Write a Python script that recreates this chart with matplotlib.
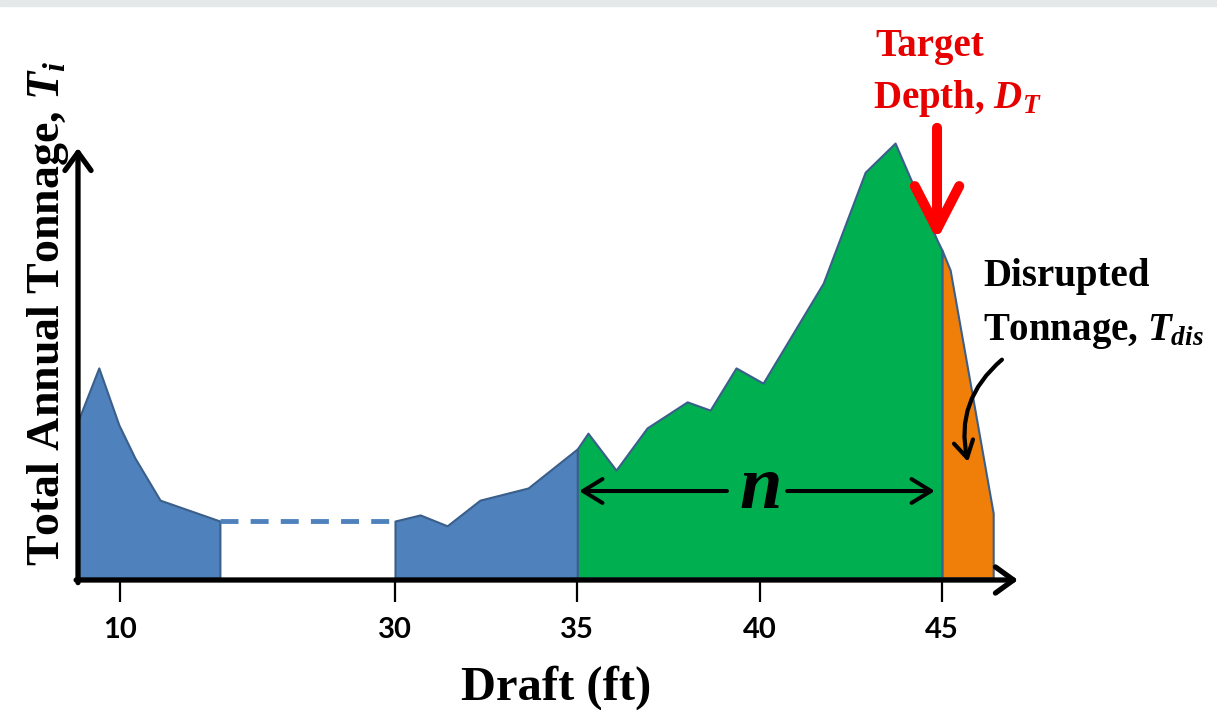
import numpy as np
import matplotlib.pyplot as plt
from matplotlib.patches import Rectangle

plt.rcParams['mathtext.fontset'] = 'custom'
plt.rcParams['mathtext.rm'] = 'Liberation Serif'
plt.rcParams['mathtext.it'] = 'Liberation Serif:italic:bold'

# tonnage profile (draft in ft, tonnage in arbitrary units)
low_draft = [8.85, 9.42, 9.97, 10.41, 11.10, 12.74]
low_tons = [36.1, 48.3, 35.2, 27.6, 17.9, 13.1]

mid_draft = [30.0, 30.69, 31.43, 32.33, 33.65, 35.0]
mid_tons = [13.1, 14.5, 12.0, 17.9, 20.7, 29.7]

n_draft = [35.0, 35.29, 36.06, 36.91, 38.01, 38.64, 39.35, 40.09, 41.74, 42.89, 43.71, 44.86, 45.0]
n_tons = [29.7, 33.3, 24.8, 34.5, 40.5, 38.6, 48.3, 44.8, 67.8, 93.3, 100.0, 77.7, 75.3]

dis_draft = [45.0, 45.22, 46.4]
dis_tons = [75.3, 70.8, 14.9]

target_depth = 44.86
tick_drafts = [10, 30, 35, 40, 45]
tick_labels = ['10', '30', '35', '40', '45']

W, H = 1217, 710


def fx(px):
    return px / W


def fy(py):
    return 1 - py / H


# broken draft axis: 13-30 ft squeezed together
brk_d = [0.0, 12.75, 30.0, 60.0]
brk_p = [120 - 10 * 36.47, 120 + 2.75 * 36.47, 395.0, 395 + 30 * 36.47]


def fwd(d):
    return np.interp(d, brk_d, brk_p)


def inv(p):
    return np.interp(p, brk_p, brk_d)


fig = plt.figure(figsize=(W / 100, H / 100), dpi=100)
fig.patches.append(Rectangle((0, fy(6)), 1, 6 / H, transform=fig.transFigure,
                             color='#e4e8e8', zorder=0))

ax = fig.add_axes([fx(78), fy(580), fx(1018) - fx(78), fy(140) - fy(580)])
ax.set_xscale('function', functions=(fwd, inv))
ax.set_xlim(8.85, 47.08)
ax.set_ylim(-0.46, 100.7)
for s in ax.spines.values():
    s.set_visible(False)

edge = '#3a5f8b'
ax.fill_between(low_draft, low_tons, 0, facecolor='#4f81bd', edgecolor=edge, lw=1.5)
ax.fill_between(mid_draft, mid_tons, 0, facecolor='#4f81bd', edgecolor=edge, lw=1.5)
ax.fill_between(n_draft, n_tons, 0, facecolor='#00b050', edgecolor=edge, lw=1.5)
ax.fill_between(dis_draft, dis_tons, 0, facecolor='#f07f09', edgecolor=edge, lw=1.5)
ax.plot([low_draft[-1], mid_draft[0]], [low_tons[-1], mid_tons[0]], color='#4f81bd',
        lw=3.5, dashes=(3.7, 2.5))

ax.set_yticks([])
ax.set_xticks(tick_drafts)
ax.set_xticklabels(tick_labels, fontfamily='Lato', fontweight='bold', fontsize=21)
ax.xaxis.set_minor_locator(plt.NullLocator())
ax.tick_params(axis='x', direction='out', length=16, width=1.6, pad=11)

# axis arrows
ax_arrow = dict(arrowstyle='->,head_length=13,head_width=9.4', mutation_scale=1,
                lw=3.8, color='black', shrinkA=0, shrinkB=0)
ax.annotate('', xy=(1, 0), xytext=(-0.002, 0), xycoords='axes fraction', arrowprops=ax_arrow,
            annotation_clip=False)
ax.annotate('', xy=(0, 0.982), xytext=(0, -0.006), xycoords='axes fraction', arrowprops=ax_arrow,
            annotation_clip=False)

# n arrows
n_arrow = dict(arrowstyle='->,head_length=14,head_width=8.6', mutation_scale=1,
               lw=2.9, color='black', shrinkA=0, shrinkB=0)
ax.annotate('', xy=(35.05, 20.0), xytext=(39.1, 20.0), arrowprops=n_arrow)
ax.annotate('', xy=(44.8, 20.0), xytext=(40.75, 20.0), arrowprops=n_arrow)
fig.text(fx(761), fy(490), 'n', fontfamily='Liberation Serif', fontweight='bold',
         fontstyle='italic', fontsize=55, ha='center', va='center')

# target depth arrow
ax.annotate('', xy=(target_depth, 77.7), xytext=(target_depth, 103.5),
            arrowprops=dict(arrowstyle='->,head_length=31,head_width=16', mutation_scale=1,
                            lw=7.2, color='#ff0000', shrinkA=0, shrinkB=0),
            annotation_clip=False)

# disrupted tonnage pointer
ax.annotate('', xy=(45.71, 26.7), xytext=(46.64, 50.2),
            arrowprops=dict(arrowstyle='->,head_length=12,head_width=7', mutation_scale=1,
                            lw=3.0, color='black', shrinkA=0, shrinkB=0,
                            connectionstyle='arc3,rad=0.3'),
            annotation_clip=False)

serif = dict(fontfamily='Liberation Serif', fontweight='bold')
fig.text(fx(930), fy(56), 'Target', color='#e60000', fontsize=28, ha='center',
         va='baseline', **serif)
fig.text(fx(873), fy(108), r'Depth, $D_T$', color='#e60000', fontsize=28, ha='left',
         va='baseline', **serif)
fig.text(fx(983), fy(286), 'Disrupted', color='black', fontsize=28, ha='left',
         va='baseline', **serif)
fig.text(fx(983), fy(340), r'Tonnage, $T_{dis}$', color='black', fontsize=28, ha='left',
         va='baseline', **serif)

fig.text(fx(556), fy(700), 'Draft (ft)', fontsize=35, ha='center', va='baseline', **serif)
fig.text(fx(48), fy(313), r'Total Annual Tonnage, $T_i$', fontsize=33, rotation=90,
         ha='center', va='center', **serif)

fig.savefig('out.png', dpi=100)
